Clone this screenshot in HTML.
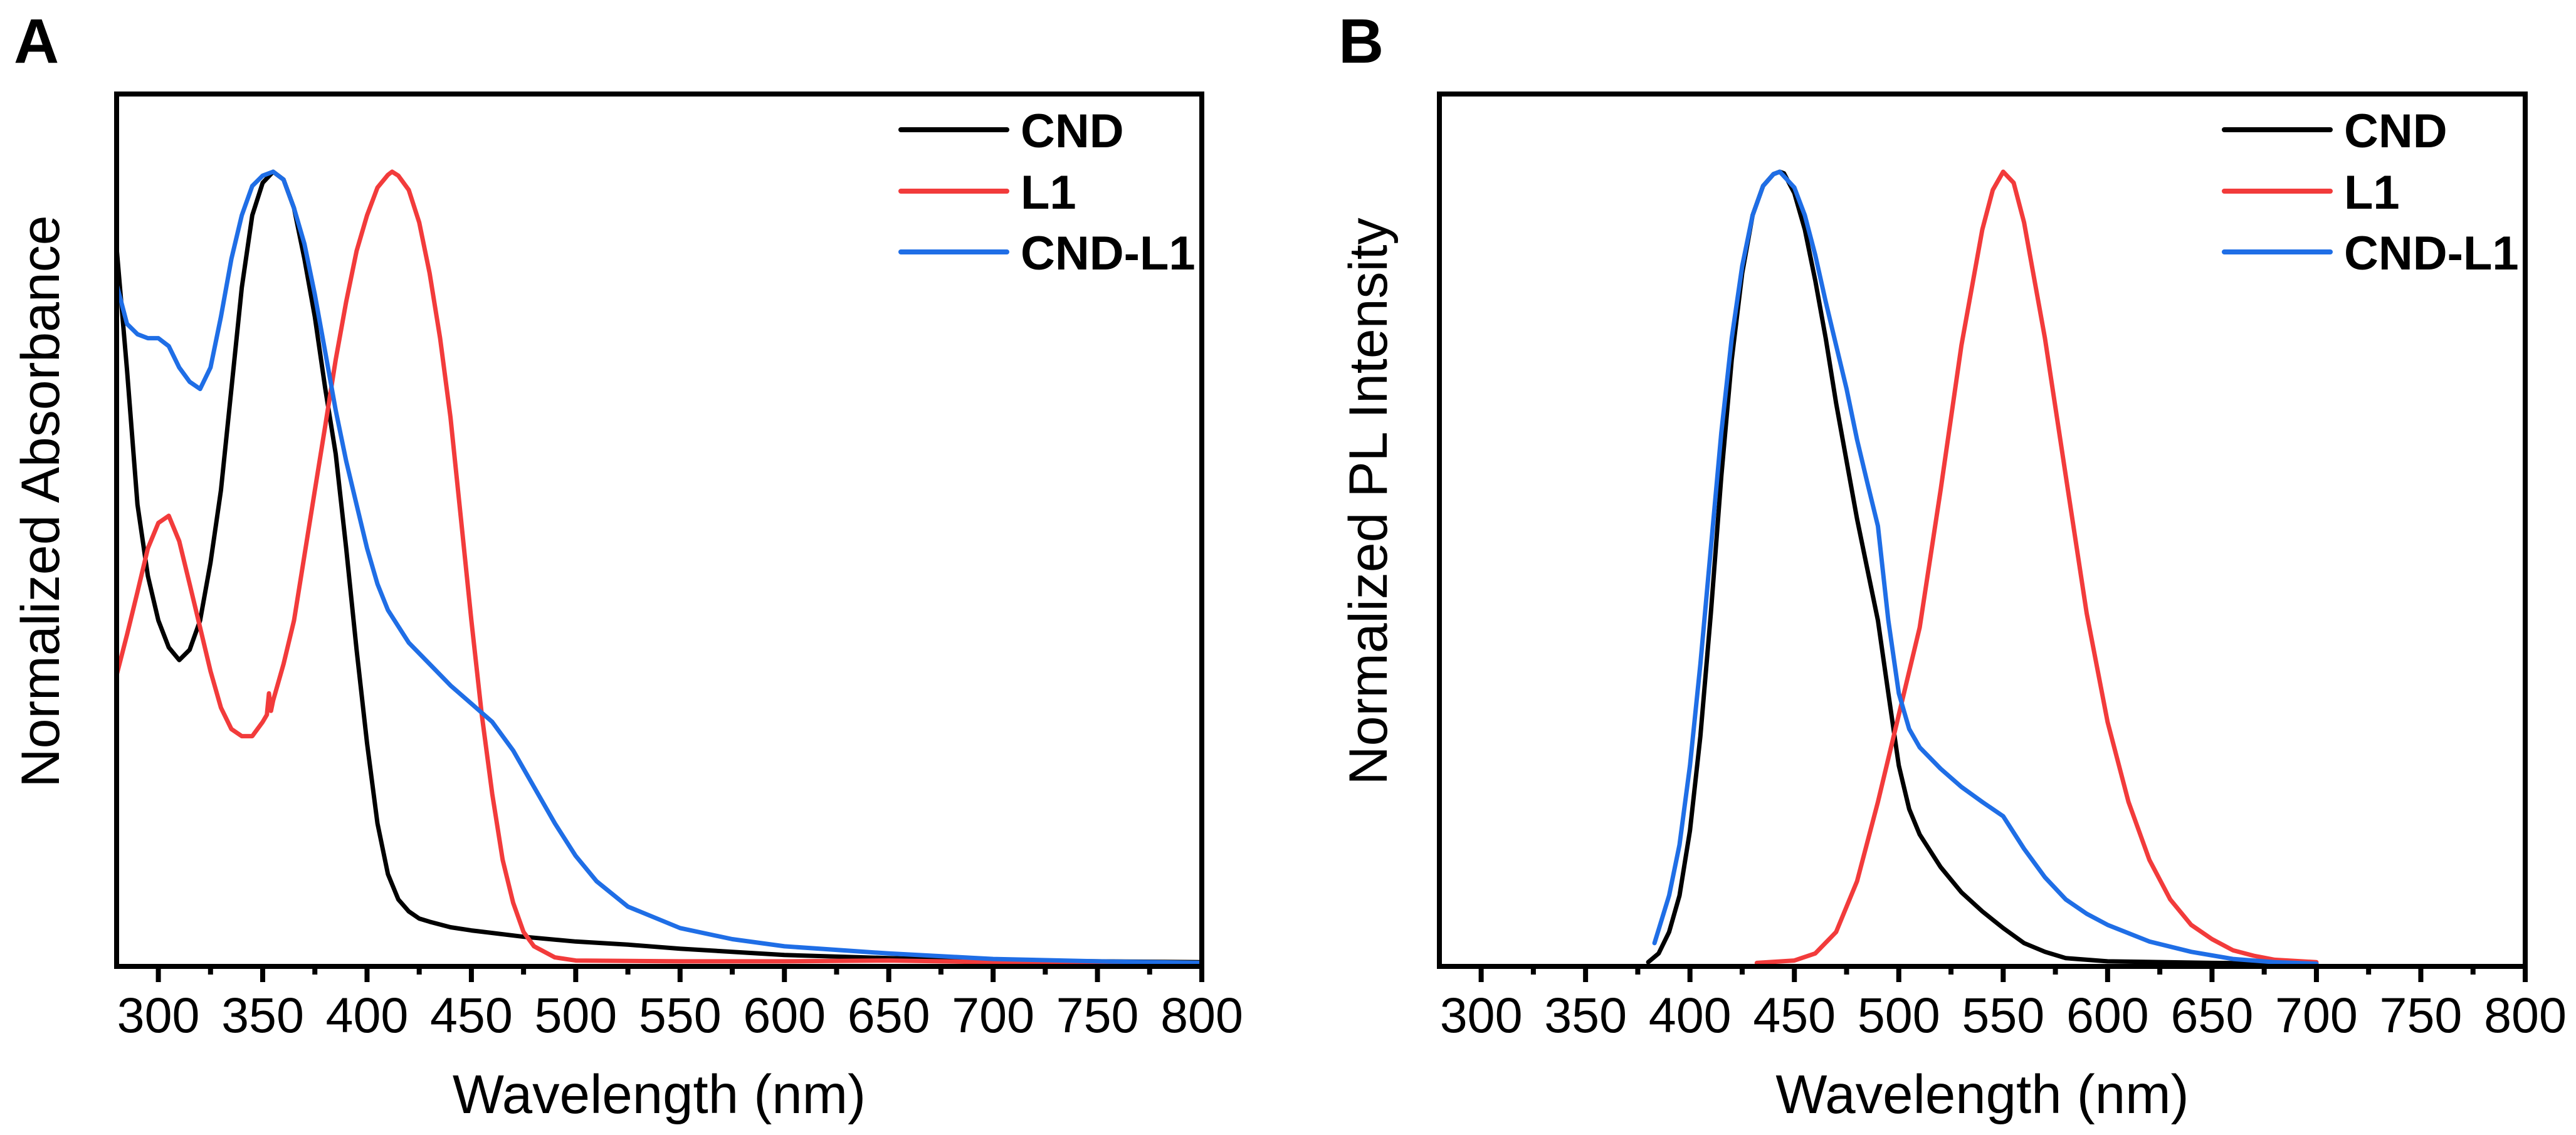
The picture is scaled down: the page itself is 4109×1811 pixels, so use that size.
<!DOCTYPE html>
<html><head><meta charset="utf-8">
<style>
html,body{margin:0;padding:0;background:#fff;}
svg{display:block;font-family:"Liberation Sans",Arial,sans-serif;}
</style></head>
<body>
<svg id="fig" width="4109" height="1811" viewBox="0 0 4109 1811" xmlns="http://www.w3.org/2000/svg">
<rect width="4109" height="1811" fill="#fff"/>
</svg>
<script>
// ---------- Data (wavelength nm, normalized value) ----------
const tickLabels = [300,350,400,450,500,550,600,650,700,750,800];
const seriesNames = ["CND","L1","CND-L1"];

const absCndX = [280,285,290,295,300,305,310,315,320,325,330,335,340,345,350,355,360,365,370,375,380,385,390,395,400,405,410,415,420,425,430,440,450,475,500,525,550,600,650,700,750,800];
const absCndY = [0.904,0.75,0.58,0.49,0.434,0.40,0.384,0.397,0.434,0.507,0.598,0.726,0.854,0.945,0.986,1.0,0.99,0.954,0.89,0.817,0.726,0.644,0.525,0.397,0.279,0.178,0.114,0.082,0.067,0.058,0.054,0.047,0.043,0.035,0.029,0.025,0.020,0.012,0.008,0.005,0.004,0.003];

const absL1X = [280,285,290,295,300,305,310,315,320,325,330,335,340,345,350,352,353,354,355,360,365,370,375,380,385,390,395,400,405,410,412,415,420,425,430,435,440,445,450,455,460,465,470,475,480,490,500,550,600,650,700,750,800];
const absL1Y = [0.365,0.416,0.47,0.525,0.557,0.566,0.534,0.48,0.425,0.37,0.324,0.297,0.288,0.288,0.306,0.315,0.342,0.32,0.333,0.379,0.434,0.516,0.598,0.68,0.763,0.836,0.9,0.945,0.98,0.996,1.0,0.995,0.977,0.936,0.872,0.79,0.69,0.562,0.434,0.315,0.215,0.132,0.078,0.041,0.023,0.009,0.005,0.004,0.004,0.005,0.003,0.001,0.001];

const absMixX = [280,285,290,295,300,305,310,315,320,325,330,335,340,345,350,355,360,365,370,375,380,385,390,395,400,405,410,420,430,440,450,460,470,480,490,500,510,525,550,575,600,650,700,750,800];
const absMixY = [0.858,0.808,0.795,0.79,0.79,0.78,0.753,0.735,0.726,0.753,0.817,0.89,0.945,0.982,0.995,1.0,0.99,0.954,0.909,0.845,0.772,0.699,0.635,0.58,0.525,0.48,0.447,0.406,0.379,0.352,0.329,0.306,0.27,0.224,0.178,0.137,0.105,0.073,0.046,0.032,0.023,0.014,0.007,0.004,0.002];

const plCndX = [380,385,390,395,400,405,410,415,420,425,430,435,440,443,445,450,455,460,465,470,475,480,485,490,495,500,505,510,520,530,540,550,560,570,580,600,650,700];
const plCndY = [0.003,0.014,0.041,0.087,0.169,0.288,0.443,0.616,0.763,0.872,0.945,0.982,0.997,1.0,0.998,0.973,0.927,0.863,0.79,0.708,0.635,0.562,0.498,0.434,0.342,0.251,0.196,0.164,0.123,0.091,0.067,0.046,0.027,0.016,0.008,0.004,0.002,0.001];

const plL1X = [432,450,460,470,480,490,500,510,520,530,540,545,550,555,560,570,580,590,600,610,620,630,640,650,660,670,680,700];
const plL1Y = [0.002,0.005,0.014,0.041,0.105,0.205,0.315,0.425,0.598,0.781,0.927,0.977,1.0,0.986,0.936,0.79,0.616,0.443,0.306,0.205,0.132,0.082,0.05,0.032,0.018,0.011,0.006,0.003];

const plMixX = [383,390,395,400,405,410,415,420,425,430,435,440,443,450,455,460,465,470,475,480,485,490,495,500,505,510,520,530,540,550,560,570,580,590,600,620,640,660,680,700];
const plMixY = [0.027,0.087,0.151,0.251,0.379,0.525,0.671,0.79,0.881,0.945,0.982,0.997,1.0,0.98,0.945,0.895,0.836,0.781,0.726,0.662,0.607,0.553,0.434,0.342,0.297,0.274,0.247,0.224,0.205,0.187,0.146,0.11,0.082,0.064,0.05,0.029,0.016,0.007,0.003,0.001];

// ---------- Drawing ----------
const NS = "http://www.w3.org/2000/svg";
const svg = document.getElementById("fig");
const COLORS = ["#000000","#f23b3b","#1f6ee6"];
const XMIN = 280, XMAX = 800, YMIN = -0.0024, YMAX = 1.098;

function mk(tag, attrs, parent){
  const e = document.createElementNS(NS, tag);
  for (const k in attrs) e.setAttribute(k, attrs[k]);
  (parent||svg).appendChild(e);
  return e;
}

function drawPanel(cfg){
  const L = cfg.left, R = cfg.right, T = 150, B = 1542;
  const xs = v => L + (v - XMIN) / (XMAX - XMIN) * (R - L);
  const ys = v => B - (v - YMIN) / (YMAX - YMIN) * (B - T);
  const g = mk("g", {});
  
  

  cfg.series.forEach((s, i) => {
    let d = "";
    s.x.forEach((xv, j) => { d += (j ? "L" : "M") + xs(xv).toFixed(1) + "," + ys(s.y[j]).toFixed(1); });
    const p = mk("path", {d: d, fill: "none", stroke: COLORS[i], "stroke-width": 7, "stroke-linejoin": "round", "stroke-linecap": "round"}, g);
    
    
  });

  const fr = mk("rect", {x: L, y: T, width: R - L, height: B - T, fill: "none", stroke: "#000", "stroke-width": 8}, g);
  
  

  for (let v = 300; v <= 800; v += 25) {
    const major = (v % 50 === 0);
    const t = mk("line", {x1: xs(v), x2: xs(v), y1: B, y2: B + (major ? 25 : 13), stroke: "#000", "stroke-width": 8}, g);
    
    
  }
  tickLabels.forEach(v => {
    const t = mk("text", {x: xs(v), y: 1647, "font-size": 79, "text-anchor": "middle", fill: "#000"}, g);
    t.textContent = v;
    
    
  });

  const xt = mk("text", {x: (L + R) / 2, y: 1776, "font-size": 87, "text-anchor": "middle", fill: "#000"}, g);
  xt.textContent = "Wavelength (nm)";
  
  
  const yt = mk("text", {x: 0, y: 0, "font-size": 86, "text-anchor": "middle", fill: "#000", transform: "translate(" + cfg.ylabX + ",800) rotate(-90)"}, g);
  yt.textContent = cfg.ylabel;
  
  

  const pl = mk("text", {x: cfg.letterX, y: 100, "font-size": 100, "font-weight": "bold", fill: "#000"}, g);
  pl.textContent = cfg.letter;
  
  

  const legY = [207, 305, 402];
  seriesNames.forEach((n, i) => {
    const lg = mk("g", {}, g);
    
    
    mk("line", {x1: R - 480, x2: R - 311, y1: legY[i], y2: legY[i], stroke: COLORS[i], "stroke-width": 8, "stroke-linecap": "round"}, lg);
    const t = mk("text", {x: R - 289, y: legY[i] + 28, "font-size": 76, "font-weight": "bold", fill: "#000"}, lg);
    t.textContent = n;
  });
}

drawPanel({name: "panel-a-absorbance", prefix: "abs", left: 186, right: 1917, letter: "A", letterX: 22,
  ylabel: "Normalized Absorbance", ylabX: 94,
  series: [{x: absCndX, y: absCndY}, {x: absL1X, y: absL1Y}, {x: absMixX, y: absMixY}]});
drawPanel({name: "panel-b-photoluminescence", prefix: "pl", left: 2296, right: 4028, letter: "B", letterX: 2135,
  ylabel: "Normalized PL Intensity", ylabX: 2212,
  series: [{x: plCndX, y: plCndY}, {x: plL1X, y: plL1Y}, {x: plMixX, y: plMixY}]});
</script>
</body></html>
